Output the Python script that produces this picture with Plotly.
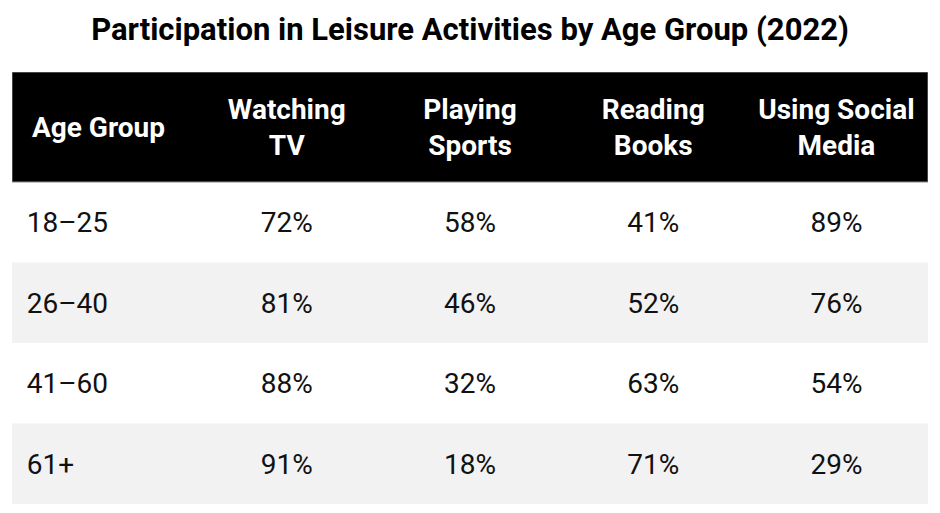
import plotly.graph_objects as go

# ---------- Data ----------
age_groups = ["18–25", "26–40", "41–60", "61+"]
header_labels = ["Age Group", "Watching<br>TV", "Playing<br>Sports",
                 "Reading<br>Books", "Using Social<br>Media"]
watching_tv = [72, 81, 88, 91]
playing_sports = [58, 46, 32, 18]
reading_books = [41, 52, 63, 71]
social_media = [89, 76, 54, 29]

columns = [watching_tv, playing_sports, reading_books, social_media]

# ---------- Layout helpers ----------
W, H = 940, 513
off = 8                         # page body margin
left, right, top, bottom = 12 - off, 928 - off, 72 - off, 504 - off
header_h = 110 / 80.5           # header height in row units
n_rows = len(age_groups)
n_cols = len(header_labels)
row_fill = ["#ffffff", "#f2f2f2"]
font = "Roboto, Arial, sans-serif"
nudge = 0.04                    # small downward shift so glyphs sit centred

row_y = [i + 0.5 + nudge for i in range(n_rows)]
head_y = -header_h / 2 + nudge

fig = go.Figure()

# row backgrounds
fig.add_trace(go.Bar(
    orientation="h",
    y=[i + 0.5 for i in range(n_rows)],
    x=[n_cols] * n_rows,
    base=0,
    width=1,
    marker=dict(color=[row_fill[i % 2] for i in range(n_rows)], line_width=0),
    hoverinfo="skip",
    showlegend=False,
))

# header background
fig.add_trace(go.Bar(
    orientation="h",
    y=[-header_h / 2],
    x=[n_cols],
    base=0,
    width=header_h,
    marker=dict(color="#000000", line=dict(color="#8a8a8a", width=1)),
    hoverinfo="skip",
    showlegend=False,
))

# header text
fig.add_trace(go.Scatter(
    x=[0.109], y=[head_y], text=["<b>" + header_labels[0] + "</b>"],
    mode="text", textposition="middle right",
    textfont=dict(family=font, size=28, color="white"),
    hoverinfo="skip", showlegend=False,
))
fig.add_trace(go.Scatter(
    x=[j + 0.5 for j in range(1, n_cols)],
    y=[head_y] * (n_cols - 1),
    text=["<b>" + t + "</b>" for t in header_labels[1:]],
    mode="text", textposition="middle center",
    textfont=dict(family=font, size=28, color="white"),
    hoverinfo="skip", showlegend=False,
))

# body text
fig.add_trace(go.Scatter(
    x=[0.08] * n_rows, y=row_y,
    text=age_groups, mode="text", textposition="middle right",
    textfont=dict(family=font, size=28, color="#111111"),
    hoverinfo="skip", showlegend=False,
))
for j, col in enumerate(columns, start=1):
    fig.add_trace(go.Scatter(
        x=[j + 0.5] * n_rows, y=row_y,
        text=[f"{v}%" for v in col], mode="text", textposition="middle center",
        textfont=dict(family=font, size=28, color="#111111"),
        hoverinfo="skip", showlegend=False,
    ))

fig.update_layout(
    width=W, height=H,
    margin=dict(l=0, r=0, t=0, b=0),
    paper_bgcolor="white",
    plot_bgcolor="white",
    title=dict(
        text="<b>Participation in Leisure Activities by Age Group (2022)</b>",
        x=(470 - off) / W, xanchor="center", y=1 - 21 / H, yanchor="middle",
        font=dict(family=font, size=31, color="#000000"),
    ),
    xaxis=dict(domain=[left / W, right / W], range=[0, n_cols],
               visible=False, fixedrange=True),
    yaxis=dict(domain=[1 - bottom / H, 1 - top / H],
               range=[n_rows, -header_h], visible=False, fixedrange=True),
    barmode="overlay",
)

fig.write_html("out.html")
